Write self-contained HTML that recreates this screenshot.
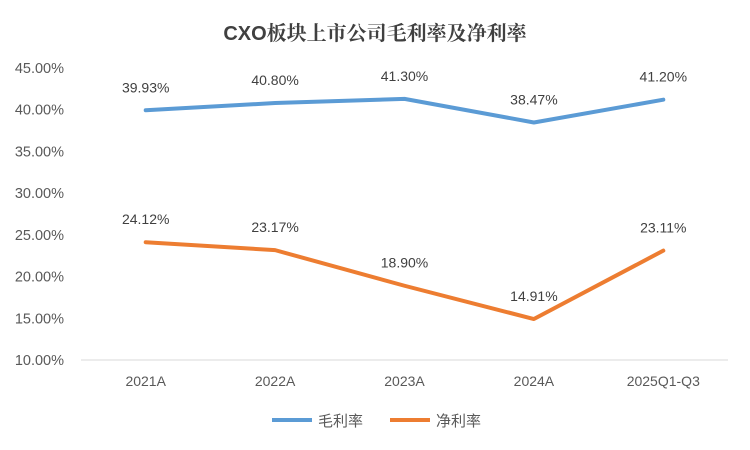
<!DOCTYPE html>
<html><head><meta charset="utf-8"><style>
body{margin:0;background:#fff;}
svg{display:block;font-family:"Liberation Sans","Noto Sans CJK SC",sans-serif;}
</style></head><body>
<svg id="chart" width="750" height="450">
<text x="375" y="40" text-anchor="middle" font-size="20" font-weight="bold" fill="#404040" font-family="'Liberation Sans','Noto Serif CJK SC',serif">CXO板块上市公司毛利率及净利率</text>
<g id="axes"></g><g id="series"></g>
<g>
<line x1="272" y1="420" x2="312" y2="420" stroke="#5b9bd5" stroke-width="4"/>
<text x="318" y="426" font-size="15" fill="#595959">毛利率</text>
<line x1="390" y1="420" x2="430" y2="420" stroke="#ed7d31" stroke-width="4"/>
<text x="436" y="426" font-size="15" fill="#595959">净利率</text>
</g>
</svg>
<script>
const categories=["2021A","2022A","2023A","2024A","2025Q1-Q3"];
const grossMargin=[39.93,40.80,41.30,38.47,41.20];
const netMargin=[24.12,23.17,18.90,14.91,23.11];
const yTicks=[10,15,20,25,30,35,40,45];
const L=81,R=728,T=68,B=360,yMin=10,yMax=45;
const band=(R-L)/categories.length;
const x=i=>L+band*(i+0.5);
const y=v=>B-(v-yMin)/(yMax-yMin)*(B-T);
const NS="http://www.w3.org/2000/svg";
const ax=document.getElementById('axes'),se=document.getElementById('series');
function mk(t,a,p){const e=document.createElementNS(NS,t);for(const k in a)e.setAttribute(k,a[k]);p.appendChild(e);return e;}
yTicks.forEach(v=>{const t=mk('text',{x:64,y:y(v)+5,'text-anchor':'end','font-size':14.5,fill:'#595959'},ax);t.textContent=v.toFixed(2)+'%';

});
const base=mk('line',{x1:L,x2:R,y1:B,y2:B,stroke:'#d9d9d9'},ax);


categories.forEach((c,i)=>{const t=mk('text',{x:x(i),y:386,'text-anchor':'middle','font-size':14,fill:'#595959'},ax);t.textContent=c;

});
function series(vals,color,name){
const p=mk('polyline',{points:vals.map((v,i)=>x(i)+','+y(v)).join(' '),fill:'none',stroke:color,'stroke-width':4,'stroke-linejoin':'round','stroke-linecap':'round'},se);


vals.forEach((v,i)=>{const t=mk('text',{x:x(i),y:y(v)-18,'text-anchor':'middle','font-size':14,fill:'#404040'},se);t.textContent=v.toFixed(2)+'%';

});
}
series(grossMargin,'#5b9bd5','gross-margin');
series(netMargin,'#ed7d31','net-margin');
</script>
</body></html>
